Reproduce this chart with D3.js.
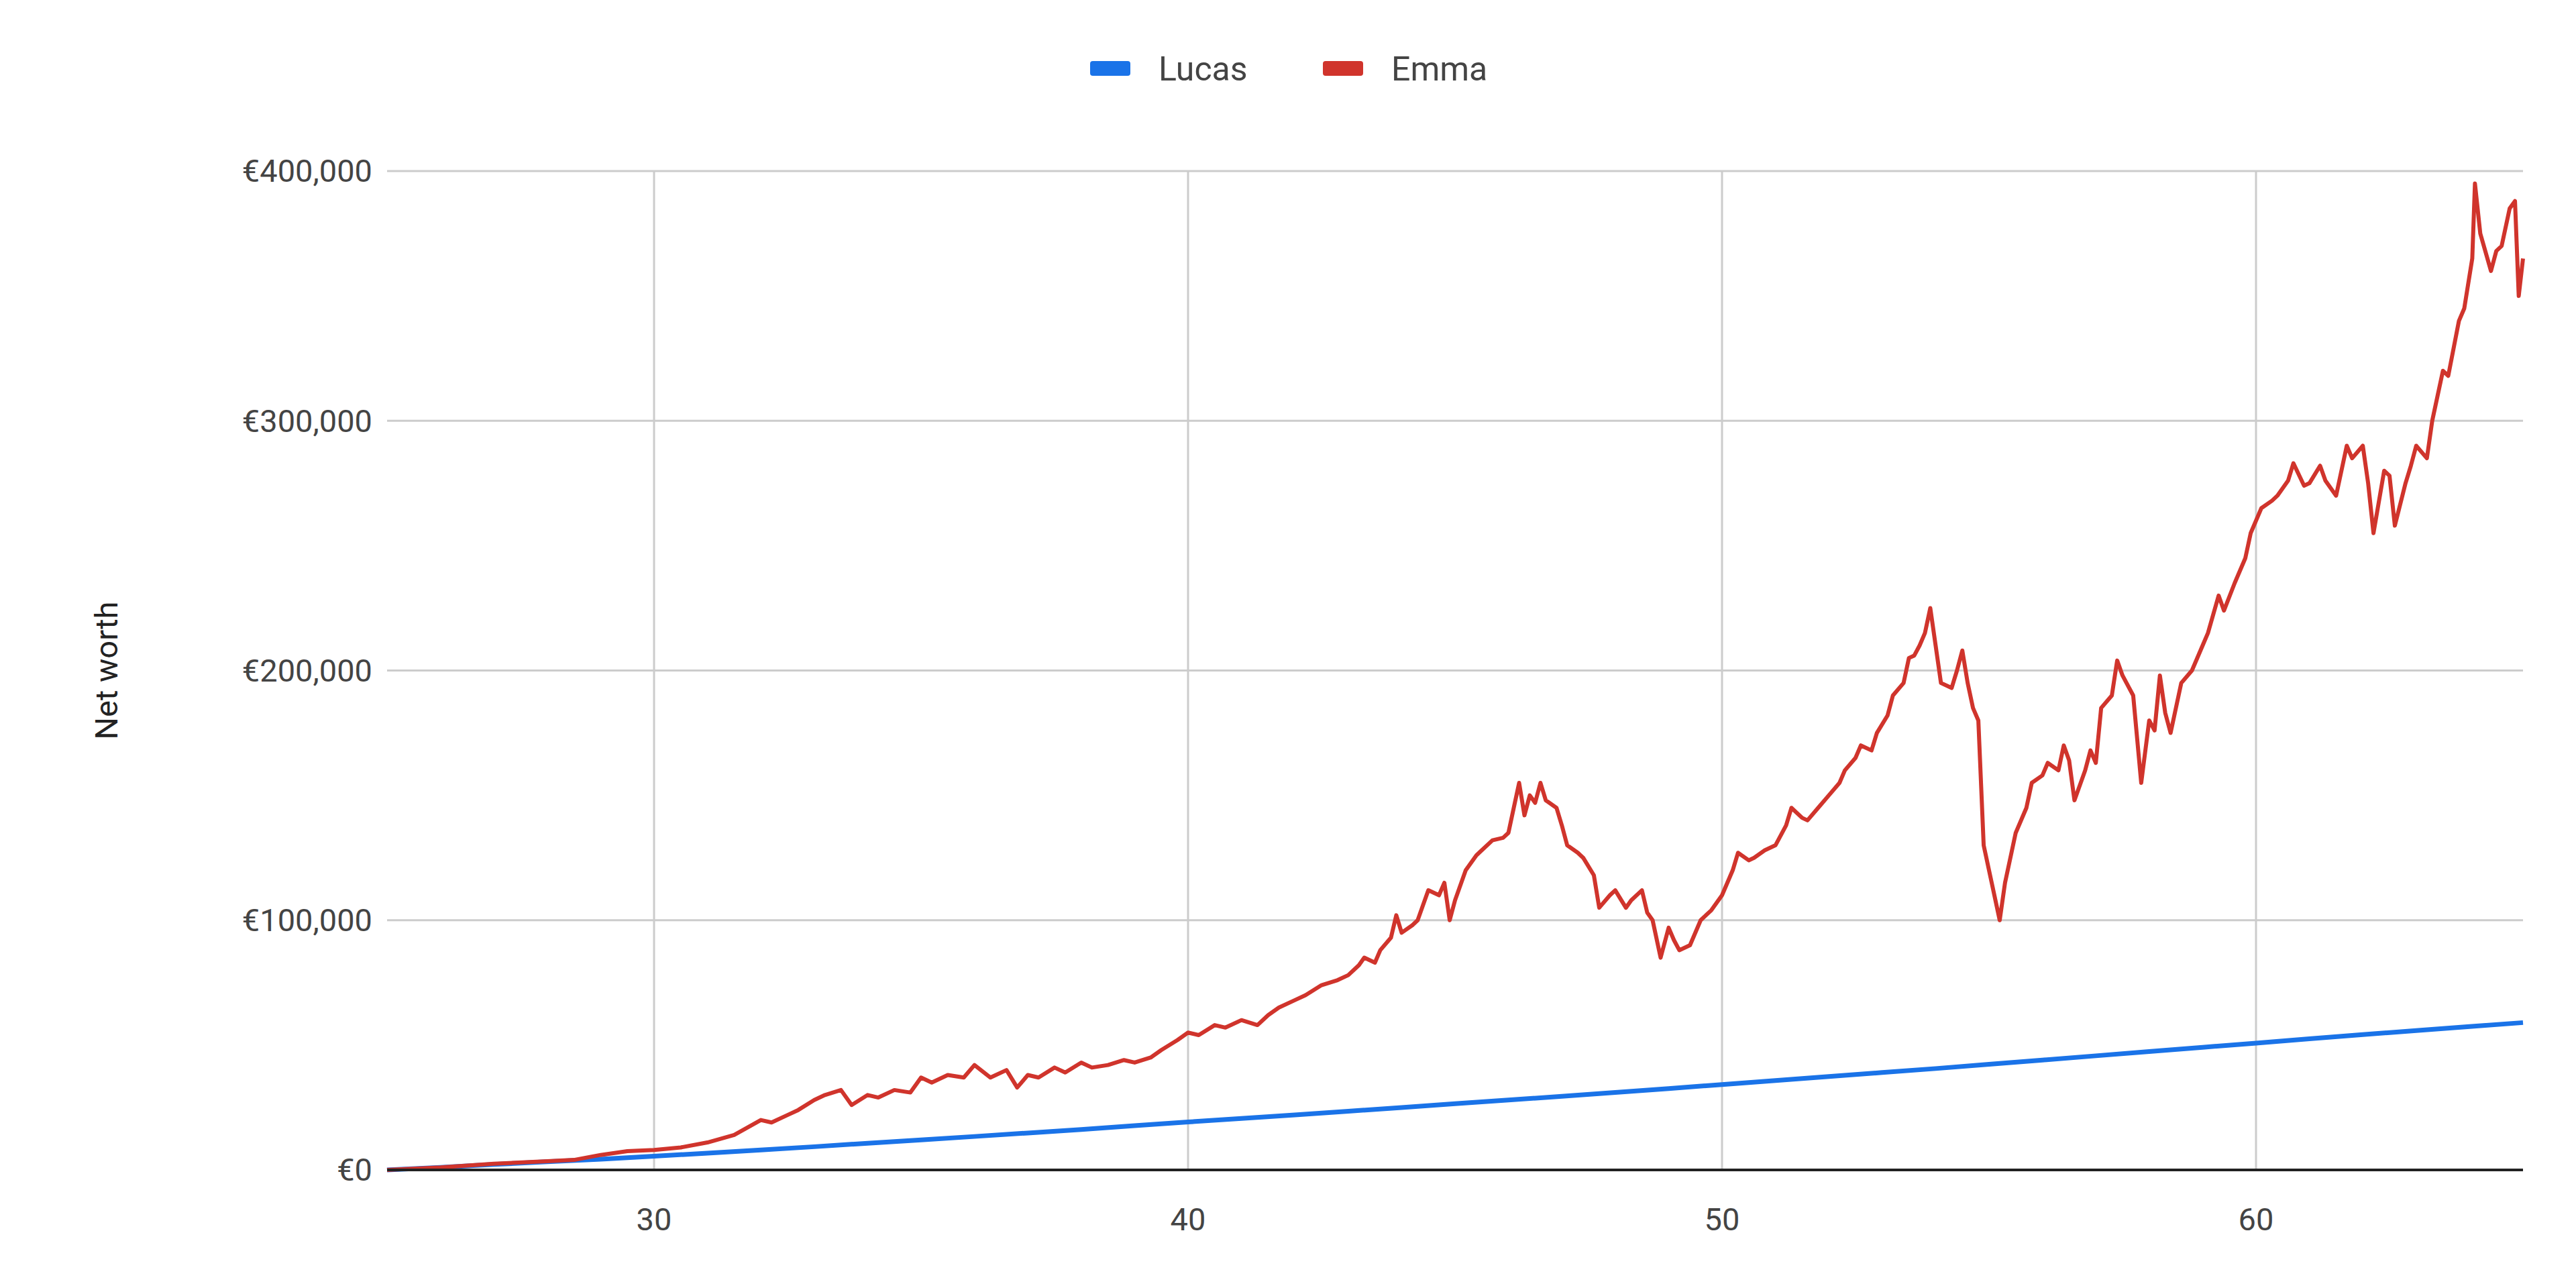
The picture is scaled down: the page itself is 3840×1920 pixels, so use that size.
<!DOCTYPE html>
<html><head><meta charset="utf-8">
<script src="https://cdn.jsdelivr.net/npm/d3@7"></script>
<style>body{margin:0;background:#fff}svg{font-family:Roboto,sans-serif}</style>
</head><body><div id="chart"></div>
<script>
const width = 3840, height = 1920;

const lucasAges = [25,26,27,28,29,30,31,32,33,34,35,36,37,38,39,40,41,42,43,44,45,46,47,48,49,50,51,52,53,54,55,56,57,58,59,60,61,62,63,64,65];
const lucasValues = [0,1000,2200,3300,4300,5500,6700,8000,9300,10700,12000,13400,14800,16200,17700,19200,20600,22000,23500,25000,26500,28000,29500,31000,32600,34200,35800,37400,39000,40600,42300,44000,45700,47400,49100,50800,52500,54200,55800,57400,59000];

const emmaAges = [25,26,27,28,28.5,29,29.5,30,30.5,31,31.5,32,32.2,32.5,32.7,33,33.2,33.5,33.7,34,34.2,34.5,34.8,35,35.2,35.5,35.8,36,36.3,36.6,36.8,37,37.2,37.5,37.7,38,38.2,38.5,38.8,39,39.3,39.5,39.8,40,40.2,40.5,40.7,41,41.3,41.5,41.7,42,42.2,42.5,42.8,43,43.2,43.3,43.5,43.6,43.8,43.9,44,44.2,44.3,44.5,44.7,44.8,44.9,45,45.2,45.4,45.5,45.7,45.9,46,46.1,46.2,46.3,46.4,46.5,46.6,46.7,46.9,47,47.1,47.3,47.4,47.6,47.7,47.9,48,48.2,48.3,48.5,48.6,48.7,48.85,49,49.1,49.2,49.4,49.6,49.8,50,50.2,50.3,50.5,50.6,50.8,51,51.2,51.3,51.5,51.6,51.8,52,52.2,52.3,52.5,52.6,52.8,52.9,53.1,53.2,53.4,53.5,53.6,53.7,53.8,53.9,54,54.1,54.3,54.4,54.5,54.6,54.7,54.8,54.9,55,55.05,55.2,55.3,55.5,55.7,55.8,56,56.1,56.3,56.4,56.5,56.6,56.8,56.9,57,57.1,57.3,57.4,57.5,57.7,57.85,58,58.1,58.2,58.3,58.4,58.6,58.8,59,59.1,59.3,59.4,59.6,59.8,59.9,60.1,60.3,60.4,60.6,60.7,60.9,61,61.2,61.3,61.5,61.7,61.8,62,62.1,62.2,62.4,62.5,62.6,62.8,62.9,63,63.2,63.3,63.5,63.6,63.8,63.9,64.05,64.1,64.2,64.4,64.5,64.6,64.75,64.85,64.92,65];
const emmaValues = [0,1000,2500,3500,4000,6000,7500,8000,9000,11000,14000,20000,19000,22000,24000,28000,30000,32000,26000,30000,29000,32000,31000,37000,35000,38000,37000,42000,37000,40000,33000,38000,37000,41000,39000,43000,41000,42000,44000,43000,45000,48000,52000,55000,54000,58000,57000,60000,58000,62000,65000,68000,70000,74000,76000,78000,82000,85000,83000,88000,93000,102000,95000,98000,100000,112000,110000,115000,100000,108000,120000,126000,128000,132000,133000,135000,145000,155000,142000,150000,147000,155000,148000,145000,138000,130000,127000,125000,118000,105000,110000,112000,105000,108000,112000,103000,100000,85000,97000,92000,88000,90000,100000,104000,110000,120000,127000,124000,125000,128000,130000,138000,145000,141000,140000,145000,150000,155000,160000,165000,170000,168000,175000,182000,190000,195000,205000,206000,210000,215000,225000,210000,195000,193000,200000,208000,195000,185000,180000,130000,120000,115000,100000,115000,135000,145000,155000,158000,163000,160000,170000,164000,148000,160000,168000,163000,185000,190000,204000,198000,190000,155000,180000,176000,198000,183000,175000,195000,200000,210000,215000,230000,224000,235000,245000,255000,265000,268000,270000,276000,283000,274000,275000,282000,276000,270000,290000,285000,290000,275000,255000,280000,278000,258000,275000,282000,290000,285000,300000,320000,318000,340000,345000,365000,395000,375000,360000,368000,370000,385000,388000,350000,365000,335000];

const xTicks = [30,40,50,60];
const yTicks = [0,100000,200000,300000,400000];

const margin = {left:577, right:3840-3761, top:255, bottom:1920-1744};

const svg = d3.select("#chart").append("svg")
	.attr("width", width).attr("height", height);

const x = d3.scaleLinear().domain([25,65]).range([margin.left, width-margin.right]);
const y = d3.scaleLinear().domain([0,400000]).range([height-margin.bottom, margin.top]);

// grid
svg.append("g").selectAll("line").data(xTicks).enter().append("line")
	.attr("x1", d => x(d)).attr("x2", d => x(d))
	.attr("y1", y(400000)).attr("y2", y(0))
	.attr("stroke", "#cccccc").attr("stroke-width", 3);
svg.append("g").selectAll("line").data(yTicks.slice(1)).enter().append("line")
	.attr("x1", x(25)).attr("x2", x(65))
	.attr("y1", d => y(d)).attr("y2", d => y(d))
	.attr("stroke", "#cccccc").attr("stroke-width", 3);

// tick labels
const fmt = d => "€" + d3.format(",")(d);
svg.append("g").selectAll("text").data(yTicks).enter().append("text")
	.attr("x", x(25) - 22).attr("y", d => y(d)).attr("dy", "0.35em")
	.attr("text-anchor", "end").attr("font-size", 47).attr("fill", "#444")
	.text(fmt);
svg.append("g").selectAll("text").data(xTicks).enter().append("text")
	.attr("x", d => x(d)).attr("y", y(0) + 90)
	.attr("text-anchor", "middle").attr("font-size", 47).attr("fill", "#444")
	.text(d => d);

svg.append("text")
	.attr("transform", `translate(175,${(y(0)+y(400000))/2}) rotate(-90)`)
	.attr("text-anchor", "middle").attr("font-size", 47).attr("fill", "#222")
	.text("Net worth");

// lines
const line = d3.line().x(d => x(d[0])).y(d => y(d[1]));
svg.append("path")
	.datum(lucasAges.map((a, i) => [a, lucasValues[i]]))
	.attr("d", line).attr("fill", "none")
	.attr("stroke", "#1a73e8").attr("stroke-width", 7);
svg.append("path")
	.datum(emmaAges.map((a, i) => [a, emmaValues[i]]))
	.attr("d", line).attr("fill", "none")
	.attr("stroke", "#d0342c").attr("stroke-width", 6).attr("stroke-linejoin", "round");

// zero axis
svg.append("line")
	.attr("x1", x(25)).attr("x2", x(65)).attr("y1", y(0)).attr("y2", y(0))
	.attr("stroke", "#222").attr("stroke-width", 4);

// legend
const legend = [{name:"Lucas", color:"#1a73e8", x:1625}, {name:"Emma", color:"#d0342c", x:1972}];
const lg = svg.append("g").selectAll("g").data(legend).enter().append("g");
lg.append("rect").attr("x", d => d.x).attr("y", 91).attr("width", 60).attr("height", 22)
	.attr("rx", 4).attr("fill", d => d.color);
lg.append("text").attr("x", d => d.x + 102).attr("y", 102).attr("dy", "0.35em")
	.attr("font-size", 50).attr("fill", "#444").text(d => d.name);
</script>
</body></html>
